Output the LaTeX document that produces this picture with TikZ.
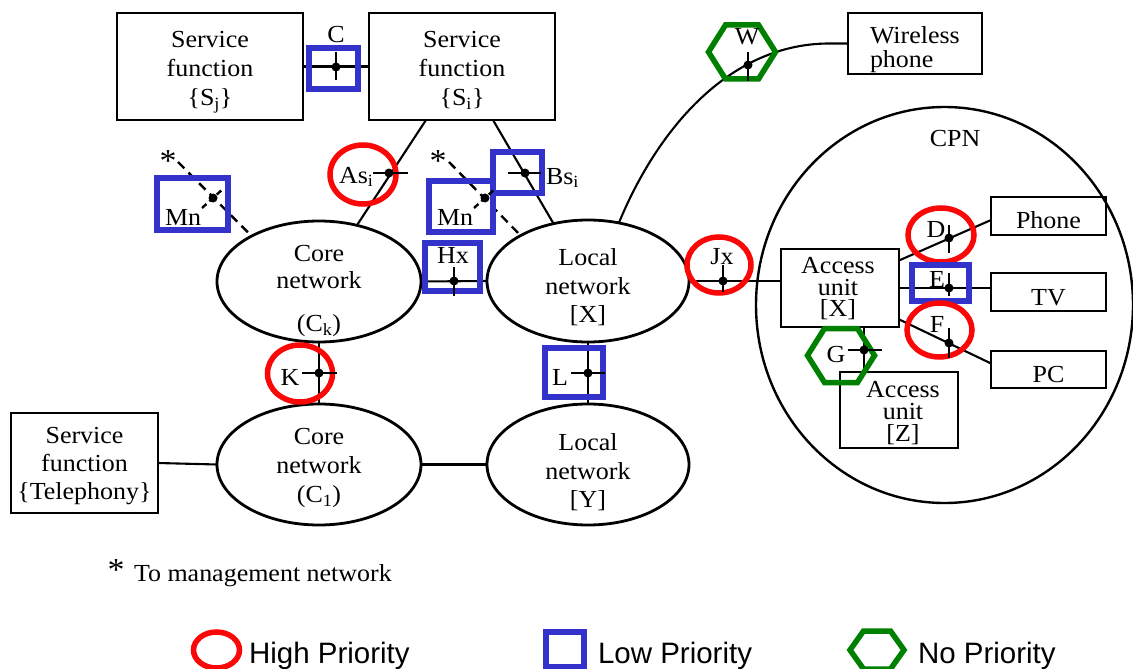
\documentclass[tikz,border=0pt]{standalone}
\usepackage{fontspec}
\setmainfont{Liberation Serif}[FakeStretch=1.06]
\newfontfamily\legendfont{Liberation Sans}
\usetikzlibrary{shapes.geometric}

\definecolor{hired}{RGB}{250,8,8}
\definecolor{loblue}{RGB}{51,51,204}
\definecolor{nogreen}{RGB}{0,128,0}

\begin{document}
\begin{tikzpicture}[x=1pt,y=-1pt,
  every node/.style={inner sep=0pt, outer sep=0pt},
  txt/.style={font=\fontsize{24.5}{29}\selectfont, align=center, anchor=north},
  mlabel/.style={font=\fontsize{24.5}{29}\selectfont, anchor=base},
  star/.style={font=\fontsize{32}{32}\selectfont, anchor=base},
  box/.style={draw, line width=2.2pt, rectangle},
  net/.style={draw, line width=2.8pt, ellipse},
  link/.style={line width=2.1pt},
  mgmt/.style={line width=2.4pt, dash pattern=on 9pt off 6pt},
  jdot/.style={circle, fill, minimum size=9pt},
  tick/.style={line width=2.1pt},
  hipri/.style={draw=hired, line width=5.5pt, ellipse},
  lopri/.style={draw=loblue, line width=5.5pt, rectangle},
  hexbig/.pic={\draw[draw=nogreen, line width=5.5pt]
    (-33.5,0) -- (-16.5,-27) -- (16.5,-27) -- (33.5,0) -- (16.5,27) -- (-16.5,27) -- cycle;},
  hexsmall/.pic={\draw[draw=nogreen, line width=5.5pt]
    (-27,0) -- (-13.5,-19) -- (13.5,-19) -- (27,0) -- (13.5,19) -- (-13.5,19) -- cycle;},
  legtext/.style={font=\legendfont\fontsize{29.5}{30}\selectfont, anchor=base west},
]
\path[use as bounding box, fill=white] (0,0) rectangle (1133,669);

% ---------- boxes and networks ----------
\node[box, minimum width=186pt, minimum height=107pt] (Sj) at (210,66.5) {};
\node[box, minimum width=186pt, minimum height=107pt] (Si) at (462,66.5) {};
\node[box, minimum width=147pt, minimum height=100pt] (Tel) at (84.5,463) {};
\node[net, minimum width=204pt, minimum height=121pt] (Ck) at (319,281.5) {};
\node[net, minimum width=202pt, minimum height=122pt] (LX) at (588,281) {};
\node[net, minimum width=204pt, minimum height=121pt] (C1) at (319,464.5) {};
\node[net, minimum width=202pt, minimum height=121pt] (LY) at (588,464.5) {};
\node[box, minimum width=134pt, minimum height=61pt] (WP) at (915,43.5) {};
\node[draw, line width=2.4pt, ellipse, minimum width=377pt, minimum height=396pt] (CPN) at (944.5,305) {};
\node[box, minimum width=118pt, minimum height=78pt] (AUX) at (840,288) {};
\node[box, minimum width=118pt, minimum height=76pt] (AUZ) at (899,410) {};
\node[box, minimum width=115pt, minimum height=38pt] (Phone) at (1048.5,216) {};
\node[box, minimum width=115pt, minimum height=38pt] (TV) at (1048.5,292) {};
\node[box, minimum width=115pt, minimum height=37pt] (PC) at (1048.5,369.5) {};

% ---------- texts ----------
\node[txt] (tSj) at (210,31.5) {Service\\function\\\{S\textsubscript{j}\}};
\node[txt] (tSi) at (462,31.5) {Service\\function\\\{S\textsubscript{i}\}};
\node[txt, font=\fontsize{24.5}{28}\selectfont] (tTel) at (84.5,427.5) {Service\\function\\\{Telephony\}};
\node[txt, font=\fontsize{24.5}{27}\selectfont] (tCk) at (319,245.5) {Core\\network\\[16pt](C\textsubscript{k})};
\node[txt] (tC1) at (319,428.5) {Core\\network\\(C\textsubscript{1})};
\node[txt, font=\fontsize{24.5}{28.5}\selectfont] (tLX) at (588,248.5) {Local\\network\\{[X]}};
\node[txt, font=\fontsize{24.5}{28.5}\selectfont] (tLY) at (588,433.5) {Local\\network\\{[Y]}};
\node[txt, font=\fontsize{24.5}{21.5}\selectfont] (tAUX) at (838,257.5) {Access\\unit\\{[X]}};
\node[txt, font=\fontsize{24.5}{22}\selectfont] (tAUZ) at (903,381.5) {Access\\unit\\{[Z]}};
\node[txt, font=\fontsize{24.5}{24}\selectfont, align=left, anchor=north west] (tWP) at (870,26.5) {Wireless\\phone};
\node[mlabel] (tPhone) at (1048.5,228) {Phone};
\node[mlabel] (tTV) at (1048.5,305) {TV};
\node[mlabel] (tPC) at (1048.5,382) {PC};
\node[mlabel] (tCPN) at (955,146) {CPN};

% ---------- connectors ----------
\coordinate (mgL) at (178,162);
\coordinate (mgR) at (449,162);
\draw[link] (Sj.east) -- (Si.west);
\draw[link] ([xshift=-36pt]Si.south) -- (Ck.56);
\draw[link] ([xshift=31pt]Si.south) -- (LX.121);
\draw[link] (Ck.east) -- (LX.west);
\draw[link] (Ck.south) -- (C1.north);
\draw[link] (LX.south) -- (LY.north);
\draw[link] (Tel.east) -- (C1.west);
\draw[link] (C1.east) -- (LY.west);
\draw[mgmt] (mgL) -- (Ck.146);
\draw[mgmt] (mgR) -- (LX.146);
\draw[link] (LX.62) .. controls (655,135) and (725,45) .. (827,43.5) -- (WP.west);
\draw[link] (LX.east) -- (LX.east -| AUX.west);
\draw[link] (AUX.25) -- (Phone.184);
\draw[link] (AUX.east) -- (AUX.east -| TV.west);
\draw[link] (AUX.-28) -- (PC.174);
\draw[link] ([xshift=24pt]AUX.south) -- ([xshift=-35pt]AUZ.north);

% ---------- priority markers ----------
\node[lopri, minimum width=49pt, minimum height=41pt] (mC) at (333.5,68.5) {};
\node[hipri, minimum width=66pt, minimum height=59pt] (mAs) at (363,174.5) {};
\node[lopri, minimum width=49pt, minimum height=41pt] (mBs) at (517.5,172.5) {};
\node[lopri, minimum width=71pt, minimum height=52pt] (mMnL) at (192.5,204) {};
\node[lopri, minimum width=64pt, minimum height=51pt] (mMnR) at (461,206.5) {};
\node[lopri, minimum width=55pt, minimum height=48pt] (mHx) at (452.5,267) {};
\node[hipri, minimum width=65pt, minimum height=57pt] (mK) at (300,373.5) {};
\node[lopri, minimum width=58pt, minimum height=49pt] (mL) at (574,372.5) {};
\pic (mW) at (742,52) {hexbig};
\node[hipri, minimum width=64pt, minimum height=56pt] (mJx) at (719,265) {};
\node[hipri, minimum width=66pt, minimum height=54pt] (mD) at (941,235) {};
\node[lopri, minimum width=57pt, minimum height=36pt] (mE) at (940.5,283) {};
\node[hipri, minimum width=65pt, minimum height=54pt] (mF) at (939.5,330) {};
\pic (mG) at (841,355.5) {hexbig};

% ---------- junction points and ticks ----------
\node[jdot] (dC) at (336,67) {};
\node[jdot] (dAs) at (389,173) {};
\node[jdot] (dBs) at (525,173) {};
\node[jdot] (dMnL) at (213,198) {};
\node[jdot] (dMnR) at (485,198) {};
\node[jdot] (dHx) at (454,281) {};
\node[jdot] (dK) at (319,373) {};
\node[jdot] (dL) at (588,373) {};
\node[jdot] (dW) at (748,65) {};
\node[jdot] (dJx) at (723,281) {};
\node[jdot] (dD) at (949,238) {};
\node[jdot] (dE) at (949,288) {};
\node[jdot] (dF) at (949,343) {};
\node[jdot] (dG) at (864,350) {};

\draw[tick] ([yshift=15pt]dC.center) -- ([yshift=-13pt]dC.center);
\draw[tick] ([xshift=-16pt]dAs.center) -- ([xshift=19pt]dAs.center);
\draw[tick] ([xshift=-17pt]dBs.center) -- ([xshift=16pt]dBs.center);
\draw[mgmt, dash pattern=on 6pt off 4pt] ([shift={(-11pt,-10pt)}]dMnL.center) -- ([shift={(11pt,10pt)}]dMnL.center);
\draw[mgmt, dash pattern=on 6pt off 4pt] ([shift={(-11pt,-10pt)}]dMnR.center) -- ([shift={(11pt,10pt)}]dMnR.center);
\draw[tick] ([yshift=14pt]dHx.center) -- ([yshift=-15pt]dHx.center);
\draw[tick] ([xshift=-17pt]dK.center) -- ([xshift=18pt]dK.center);
\draw[tick] ([xshift=-17pt]dL.center) -- ([xshift=17pt]dL.center);
\draw[tick] ([yshift=13pt]dW.center) -- ([yshift=-16pt]dW.center);
\draw[tick] ([yshift=16pt]dJx.center) -- ([yshift=-11pt]dJx.center);
\draw[tick] ([yshift=13pt]dD.center) -- ([yshift=-15pt]dD.center);
\draw[tick] ([yshift=15pt]dE.center) -- ([yshift=-8pt]dE.center);
\draw[tick] ([yshift=15pt]dF.center) -- ([yshift=-15pt]dF.center);
\draw[tick] ([xshift=-16pt]dG.center) -- ([xshift=18pt]dG.center);

% ---------- marker labels ----------
\node[mlabel] (lC) at (336,43) {C};
\node[mlabel, anchor=base west] (lAs) at (339,183) {As\textsubscript{i}};
\node[mlabel, anchor=base west] (lBs) at (546,184) {Bs\textsubscript{i}};
\node[mlabel, anchor=base west] (lMnL) at (165,225) {Mn};
\node[mlabel, anchor=base west] (lMnR) at (437,225) {Mn};
\node[star] (aL) at (168,171) {*};
\node[star] (aR) at (438,171) {*};
\node[mlabel] (lHx) at (453,263) {Hx};
\node[mlabel] (lK) at (290,385) {K};
\node[mlabel] (lL) at (560,385) {L};
\node[mlabel] (lW) at (747,45) {W};
\node[mlabel] (lJx) at (722,264) {Jx};
\node[mlabel] (lD) at (936,237) {D};
\node[mlabel] (lE) at (937,287) {E};
\node[mlabel] (lF) at (937,332) {F};
\node[mlabel] (lG) at (836,362) {G};

% ---------- footnote ----------
\node[star] (fStar) at (116,580) {*};
\node[mlabel, anchor=base west] (fText) at (134,581) {To management network};

% ---------- legend ----------
\node[hipri, minimum width=46pt, minimum height=36pt] (legHi) at (216.5,650) {};
\node[legtext] (legHiT) at (249,663) {High Priority};
\node[lopri, minimum width=38pt, minimum height=35pt] (legLo) at (565,649.5) {};
\node[legtext] (legLoT) at (598,663) {Low Priority};
\pic (legNo) at (877,650) {hexsmall};
\node[legtext] (legNoT) at (918,663) {No Priority};
\end{tikzpicture}
\end{document}
